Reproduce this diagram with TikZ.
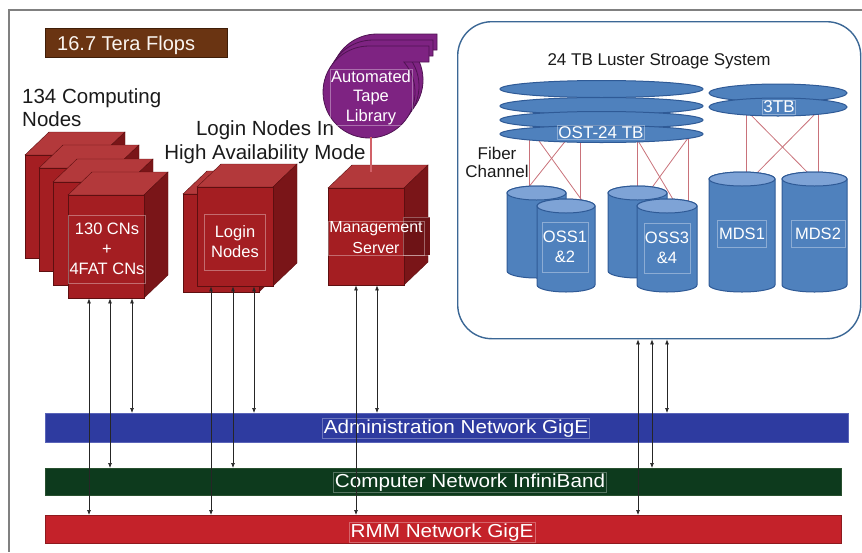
\documentclass[tikz,border=0pt]{standalone}
\usepackage{fontspec}
\setmainfont{Liberation Sans}
\newfontfamily\barfont[FakeStretch=1.1]{Liberation Sans}
\usetikzlibrary{arrows.meta,shapes.geometric}

\definecolor{cubefront}{HTML}{A41E22}
\definecolor{cubelight}{HTML}{B3393B}
\definecolor{cubedark}{HTML}{7A1518}
\definecolor{cubeline}{HTML}{5E0F10}
\definecolor{reelpurple}{HTML}{7E2382}
\definecolor{reelline}{HTML}{4F1352}
\definecolor{diskblue}{HTML}{4F81BD}
\definecolor{diskline}{HTML}{2F5A96}
\definecolor{lidblue}{HTML}{7EA3D6}
\definecolor{fiberred}{HTML}{C9727A}
\definecolor{lustreline}{HTML}{3B6795}
\definecolor{admblue}{HTML}{2E3BA0}
\definecolor{admline}{HTML}{5A64B8}
\definecolor{ibgreen}{HTML}{0D3A1D}
\definecolor{ibline}{HTML}{28502F}
\definecolor{rmmred}{HTML}{C4222A}
\definecolor{rmmline}{HTML}{8E1A1E}
\definecolor{titlebrown}{HTML}{6A3412}
\definecolor{titleline}{HTML}{3F1E08}
\definecolor{textblack}{HTML}{1A1A1A}

\pgfdeclarelayer{background}
\pgfsetlayers{background,main}

\tikzset{
  frame/.style={draw=gray, line width=1.2pt},
  cubeface/.style={draw=cubeline, fill=cubefront, minimum width=76, inner sep=0, anchor=north west},
  cubetop/.style={draw=cubeline, fill=cubelight},
  cubeside/.style={draw=cubeline, fill=cubedark},
  port/.style={draw=white, draw opacity=0.3, fill=cubedark!90!black, minimum width=27, minimum height=38, inner sep=0, anchor=north west},
  reel/.style={draw=reelline, fill=reelpurple, line width=0.8pt},
  tag/.style={draw=white, draw opacity=0.35, line width=0.4pt, text=white, align=center, inner sep=1pt,
    font=\fontsize{16.5}{20}\selectfont},
  bartag/.style={draw=white, draw opacity=0.3, line width=0.4pt, text=white, inner sep=1.5pt,
    font=\barfont\fontsize{18.8}{22}\selectfont},
  heading/.style={text=textblack, inner sep=0, font=\fontsize{20.5}{23}\selectfont},
  titlebox/.style={draw=titleline, fill=titlebrown, line width=0.8pt, minimum width=182, minimum height=29, inner sep=0, anchor=north west},
  lustrebox/.style={draw=lustreline, line width=1.4pt, rounded corners=34, minimum width=403, minimum height=317, inner sep=0, anchor=north west},
  disk/.style={ellipse, draw=diskline, fill=diskblue, line width=1pt, minimum height=17, inner sep=0},
  drumbody/.style={draw=diskline, fill=diskblue, line width=1pt},
  drumlid/.style={draw=diskline, fill=lidblue, line width=1pt},
  fiber/.style={draw=fiberred, line width=0.8pt},
  tapelink/.style={draw=fiberred!85!red, line width=1.2pt},
  net/.style={line width=0.8pt, inner sep=0, anchor=north west},
  link/.style={<->, >={Latex[length=5pt,width=4pt]}, line width=0.7pt, draw=black!85},
}

% server box: name, x/y of front top left corner, height
\newcommand{\servercube}[4]{%
  \filldraw[cubetop] (#2,#3) -- ++(24,-23) -- ++(76,0) -- ++(-24,23) -- cycle;
  \filldraw[cubeside] (#2+76,#3) -- ++(24,-23) -- ++(0,#4) -- ++(-24,23) -- cycle;
  \node[cubeface, minimum height=#4] (#1) at (#2,#3) {};
}
% storage drum: name, left x, y of lid centre, width, height
\newcommand{\storagedrum}[5]{%
  \filldraw[drumbody] (#2,#3) -- (#2,#3+#5) arc[start angle=180, end angle=0, x radius=#4/2, y radius=7]
    -- (#2+#4,#3) arc[start angle=0, end angle=-180, x radius=#4/2, y radius=7] -- cycle;
  \filldraw[drumlid] (#2+#4/2,#3) ellipse[x radius=#4/2, y radius=7];
  \node[inner sep=0, minimum width=#4, minimum height=#5, anchor=north west] (#1) at (#2,#3) {};
}

\begin{document}
\begin{tikzpicture}[x=1pt,y=-1pt]
\useasboundingbox (0,0) rectangle (862,552);
\draw[frame] (862,10) -- (9,10) -- (9,552);

% peak performance
\node[titlebox] (flops) at (45,28) {};
\node[text=white!92!brown, inner sep=0, font=\fontsize{20}{24}\selectfont, anchor=base west] (flopslabel) at (57,50.5) {16.7 Tera Flops};

\node[heading, align=left, anchor=north west] (cnhead) at (22,88.5) {134 Computing\\Nodes};
\node[heading, align=center, anchor=north, font=\fontsize{20.5}{24}\selectfont] (loginhead) at (265,120.5) {Login Nodes In\\High Availability Mode};

% compute nodes
\foreach \n/\x/\y in {1/25/155,2/39/168,3/53/182,4/68/195}
  {\servercube{cn\n}{\x}{\y}{103}}
\node[tag, minimum width=76, minimum height=68] (cnlabel) at (107,249) {130 CNs\\+\\4FAT CNs};

% login nodes
\servercube{login2}{183}{194}{98}
\servercube{login}{197}{187}{99}
\node[tag, minimum width=61, minimum height=56] (loginlabel) at (235,242) {Login\\Nodes};

% management server
\servercube{mgmt}{328}{188}{97}
\node[port] (mgmtport) at (403,217) {};
\node[tag, font=\fontsize{16}{21}\selectfont] (mgmtlabel) at (376,238) {Management\\Server};

% tape library
\foreach \cx/\cy in {377/80,373/86,369/92}
  \filldraw[reel] (\cx,\cy-46) -- ++(60,0) -- ++(0,16) -- (\cx+34.9,\cy-30)
    arc[start angle=-40.7, end angle=270, radius=46] -- cycle;
\node[tag, font=\fontsize{16.5}{19.5}\selectfont, minimum width=82, minimum height=50] (tape) at (371,97.5) {Automated\\Tape\\Library};
\coordinate (reelfoot) at (371,137);
\coordinate (mgmtroof) at (371,172);
\draw[tapelink] (reelfoot) -- (mgmtroof);

% lustre storage
\node[lustrebox] (lustre) at (457,21) {};
\node[text=textblack, inner sep=0, font=\fontsize{17}{20}\selectfont, anchor=base] (lustrehead) at (659,65) {24 TB Luster Stroage System};

\foreach \i/\y in {1/89,2/106,3/120,4/134}
  \node[disk, minimum width=203] (ost\i) at (601.5,\y) {};
\node[tag, font=\fontsize{17}{20}\selectfont] (ostlabel) at (601,132.5) {OST-24 TB};
\foreach \i/\y in {1/93,2/107}
  \node[disk, minimum width=138, minimum height=18] (tb\i) at (778,\y) {};
\node[tag, font=\fontsize{17}{20}\selectfont] (tblabel) at (779,107) {3TB};

\node[text=textblack, inner sep=0, align=center, anchor=north, font=\fontsize{17}{18.5}\selectfont] (fiberhead) at (497,146.5) {Fiber\\Channel};

\storagedrum{oss12b}{507}{193}{59}{78}
\storagedrum{oss12}{537}{206}{58}{79}
\storagedrum{oss34b}{608}{193}{59}{78}
\storagedrum{oss34}{637}{206}{60}{79}
\storagedrum{mds1}{709}{179}{66}{106}
\storagedrum{mds2}{782}{179}{65}{106}
\node[tag, minimum width=39, minimum height=50] (oss12label) at (565,247) {OSS1\\\&2};
\node[tag, minimum width=46, minimum height=50] (oss34label) at (667,248) {OSS3\\\&4};
\node[tag, minimum width=49, minimum height=27] (mds1label) at (742,233.5) {MDS1};
\node[tag, minimum width=54, minimum height=27] (mds2label) at (818,233.5) {MDS2};

% fiber channel links
\begin{pgfonlayer}{background}
\draw[fiber] (529,0 |- ost4.center) -- (529,0 |- oss12b.north);
\draw[fiber] (580,0 |- ost4.center) -- (580,0 |- oss12.north);
\draw[fiber] (534,0 |- ost4.center) -- (586,0 |- oss12.north);
\draw[fiber] (571,0 |- ost4.center) -- (524,0 |- oss12b.north);
\draw[fiber] (637,0 |- ost4.center) -- (637,0 |- oss34b.north);
\draw[fiber] (688,0 |- ost4.center) -- (688,0 |- oss34.north);
\draw[fiber] (634,0 |- ost4.center) -- (677,0 |- oss34.north);
\draw[fiber] (691,0 |- ost4.center) -- (648,0 |- oss34b.north);
\draw[fiber] (746,0 |- tb2.center) -- (746,0 |- mds1.north);
\draw[fiber] (818,0 |- tb2.center) -- (818,0 |- mds2.north);
\draw[fiber] (743,0 |- tb2.center) -- (814,0 |- mds2.north);
\draw[fiber] (822,0 |- tb2.center) -- (751,0 |- mds1.north);
\end{pgfonlayer}

% networks
\node[net, fill=admblue, draw=admline, minimum width=803, minimum height=29] (adm) at (45,413) {};
\node[net, fill=ibgreen, draw=ibline, minimum width=796, minimum height=27] (ib) at (45,468) {};
\node[net, fill=rmmred, draw=rmmline, minimum width=796, minimum height=28] (rmm) at (45,515) {};
\node[bartag, anchor=base] (admlabel) at (456,433) {Administration Network GigE};
\node[bartag, anchor=base] (iblabel) at (470,487) {Computer Network InfiniBand};
\node[bartag, anchor=base] (rmmlabel) at (442,537) {RMM Network GigE};

\foreach \x/\from/\to in {89/cn4/rmm,110/cn4/ib,132/cn4/adm,211/login/rmm,233/login/ib,254/login/adm,
    356/mgmt/rmm,377/mgmt/adm,638/lustre/rmm,652/lustre/ib,667/lustre/adm}
  \draw[link] (\x,0 |- \from.south) -- (\x,0 |- \to.north);
\end{tikzpicture}
\end{document}
